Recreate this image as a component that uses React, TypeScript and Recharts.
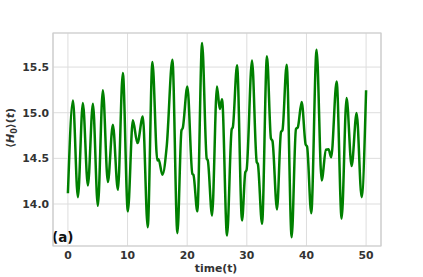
import React from 'react';
import { LineChart, Line, XAxis, YAxis, CartesianGrid, ReferenceArea } from 'recharts';

// time samples (extrema + shoulders)
const times = [
  0, 0.84, 1.67, 2.51, 3.35, 4.19, 5.02, 5.86, 6.7, 7.54, 8.38, 9.21, 10.05, 10.89, 11.66, 12.56,
  13.38, 14.17, 15.0, 15.2, 15.85, 16.58, 17.52, 18.36, 19.05, 19.25, 20.03, 20.87, 21.05, 21.7,
  22.5, 23.28, 23.45, 24.17, 25.0, 25.46, 25.85, 26.68, 27.47, 27.65, 28.36, 29.2, 29.75, 29.95,
  30.87, 31.66, 31.85, 32.55, 33.38, 34.05, 34.3, 35.06, 35.73, 35.98, 36.68, 37.52, 38.24, 38.55,
  39.2, 39.87, 40.1, 40.8, 41.7, 42.55, 43.27, 43.7, 44.15, 45.06, 45.9, 46.73, 47.57, 48.41,
  49.25, 50,
];

const h0 = [
  14.118, 15.135, 14.075, 15.105, 14.203, 15.099, 13.98, 15.245, 14.24, 14.868, 14.155, 15.434,
  13.92, 14.916, 14.667, 14.959, 13.746, 15.555, 14.477, 14.49, 14.32, 14.64, 15.58, 13.68, 14.81,
  14.83, 15.288, 14.33, 14.32, 13.92, 15.763, 14.495, 14.48, 13.874, 15.288, 15.04, 15.146, 13.655,
  14.82, 14.84, 15.519, 13.82, 14.35, 14.37, 15.573, 14.46, 14.44, 13.783, 15.617, 14.715, 14.69,
  13.94, 14.787, 14.81, 15.526, 13.636, 14.82, 14.84, 15.117, 14.65, 14.63, 13.9, 15.69, 14.258,
  14.594, 14.6, 14.513, 15.343, 13.84, 15.16, 14.415, 14.996, 14.075, 15.245,
];

const xTicks = [0, 10, 20, 30, 40, 50];
const yTicks = [14.0, 14.5, 15.0, 15.5];

const data = times.map((t, i) => ({ t, v: h0[i] }));

const font = "'DejaVu Sans', sans-serif";
const tickStyle = { fontSize: 10.8, fontWeight: 700, fill: '#333', fontFamily: font };

if (typeof document !== 'undefined') document.body.style.margin = '0';

const App: React.FC = () => {
  return (
    <div style={{ width: 423, height: 277, background: '#fff' }}>
      <LineChart width={423} height={277} data={data} margin={{ top: 33, right: 42, bottom: 0, left: 0 }}>
        <CartesianGrid stroke="#dddddd" strokeWidth={1} />
        <ReferenceArea x1={-2.5} x2={52.5} y1={13.54} y2={15.873} fill="none" stroke="#cccccc" strokeWidth={1.2} />
        <XAxis
          dataKey="t"
          type="number"
          height={31}
          domain={[-2.5, 52.5]}
          ticks={xTicks}
          tickLine={false}
          axisLine={false}
          tickSize={0}
          tickMargin={5}
          tick={tickStyle}
          label={{
            content: () => (
              <text x={216} y={272} textAnchor="middle" fontSize={10.8} fontWeight={700} fill="#333" fontFamily={font}>
                time(t)
              </text>
            ),
          }}
        />
        <YAxis
          type="number"
          width={53}
          domain={[13.54, 15.873]}
          ticks={yTicks}
          tickFormatter={(v: number) => v.toFixed(1)}
          tickLine={false}
          axisLine={false}
          tickSize={0}
          tickMargin={4}
          tick={tickStyle}
          label={{
            content: () => (
              <text
                x={14}
                y={128}
                transform="rotate(-90 14 128)"
                textAnchor="middle"
                fontSize={11}
                fontWeight={700}
                fill="#333"
                fontFamily={font}
              >
                ⟨<tspan fontStyle="italic">H</tspan>
                <tspan fontSize={8} dy={2.5}>0</tspan>
                <tspan dy={-2.5}>⟩(</tspan>
                <tspan fontStyle="italic">t</tspan>)
              </text>
            ),
          }}
        />
        <Line
          type="monotone"
          dataKey="v"
          stroke="#008000"
          strokeWidth={2.5}
          dot={false}
          isAnimationActive={false}
        />
        <text x={52} y={242} fontSize={13.5} fontWeight={700} fill="#111" fontFamily={font}>
          (a)
        </text>
      </LineChart>
    </div>
  );
};

export default App;
